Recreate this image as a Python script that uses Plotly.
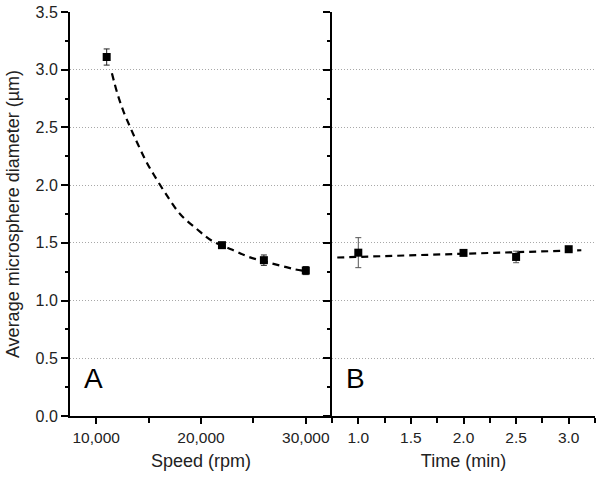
import plotly.graph_objects as go

# Panel A: speed series
speed_rpm = [11000, 22000, 26000, 30000]
speed_diam = [3.11, 1.48, 1.35, 1.26]
speed_err = [0.07, 0.02, 0.045, 0.035]

# Panel A: dashed fit curve
fitA_x = [11500, 12000, 12600, 13300, 14000, 14800, 15500, 16600, 18000,
          19600, 21000, 23000, 24500, 26000, 27700, 29000, 30000]
fitA_y = [2.97, 2.80, 2.64, 2.49, 2.35, 2.20, 2.09, 1.93, 1.75,
          1.62, 1.52, 1.44, 1.38, 1.34, 1.30, 1.27, 1.255]

# Panel B: time series
time_min = [1.0, 2.0, 2.5, 3.0]
time_diam = [1.415, 1.413, 1.378, 1.445]
time_err = [0.13, 0.02, 0.05, 0.02]

# Panel B: dashed fit line
fitB_x = [0.80, 3.12]
fitB_y = [1.373, 1.436]

grid_vals = [0.5, 1.0, 1.5, 2.0, 2.5, 3.0]

FONT = "Liberation Sans, Arial, sans-serif"
TXT = "#222222"

fig = go.Figure()

# hidden traces to activate grid axes
fig.add_trace(go.Scatter(x=[None], y=[None], xaxis="x", yaxis="y3", showlegend=False))
fig.add_trace(go.Scatter(x=[None], y=[None], xaxis="x2", yaxis="y4", showlegend=False))

fig.add_trace(go.Scatter(x=fitA_x, y=fitA_y, mode="lines",
                         line=dict(color="black", width=2.2, dash="7px,5px", shape="spline"),
                         xaxis="x", yaxis="y", showlegend=False, hoverinfo="skip"))
fig.add_trace(go.Scatter(x=speed_rpm, y=speed_diam, mode="markers",
                         marker=dict(symbol="square", size=8, color="black"),
                         error_y=dict(type="data", array=speed_err, color="#222", thickness=1, width=3),
                         xaxis="x", yaxis="y", showlegend=False))
fig.add_trace(go.Scatter(x=fitB_x, y=fitB_y, mode="lines",
                         line=dict(color="black", width=2.2, dash="7px,5px"),
                         xaxis="x2", yaxis="y2", showlegend=False, hoverinfo="skip"))
fig.add_trace(go.Scatter(x=time_min, y=time_diam, mode="markers",
                         marker=dict(symbol="square", size=8, color="black"),
                         error_y=dict(type="data", array=time_err, color="#555", thickness=1, width=3),
                         xaxis="x2", yaxis="y2", showlegend=False))

split = 262 / 525

common_y = dict(range=[0, 3.5], dtick=0.5, tick0=0, tickformat=".1f", showline=True, linecolor="black", linewidth=2,
                ticks="outside", ticklen=7, tickwidth=1.5, tickcolor="black",
                minor=dict(dtick=0.25, ticks="outside", ticklen=3.5, tickwidth=1.5, tickcolor="black", showgrid=False),
                showgrid=False, zeroline=False, fixedrange=True, tickfont=dict(size=16))

grid_y = dict(range=[0, 3.5], tickvals=grid_vals, showticklabels=False, ticks="", showgrid=True,
              gridcolor="#a8a8a8", gridwidth=1, griddash="1px,2px", showline=False, zeroline=False)

xcommon = dict(showline=True, linecolor="black", linewidth=2, ticks="outside", ticklen=6, tickwidth=1.5,
               tickcolor="black", showgrid=False, zeroline=False, tickfont=dict(size=15.5))

fig.update_layout(
    width=600, height=477,
    margin=dict(l=70, r=5, t=12, b=61),
    paper_bgcolor="white", plot_bgcolor="white",
    font=dict(family=FONT, color=TXT, size=16),
    xaxis=dict(**xcommon, domain=[0, split], range=[7500, 32500], tick0=10000, dtick=10000, tickformat=",",
               minor=dict(dtick=5000, ticks="outside", ticklen=5, tickwidth=1.5, tickcolor="black"),
               anchor="y", title=dict(text="Speed (rpm)", font=dict(size=18), standoff=10)),
    xaxis2=dict(**xcommon, domain=[split, 1], range=[0.75, 3.25], tick0=1.0, dtick=0.5, tickformat=".1f",
                minor=dict(dtick=0.25, ticks="outside", ticklen=5, tickwidth=1.5, tickcolor="black"),
                anchor="y2", title=dict(text="Time (min)", font=dict(size=18), standoff=10)),
    yaxis=dict(**common_y, anchor="x",
               title=dict(text="Average microsphere diameter (µm)", font=dict(size=18), standoff=11)),
    yaxis2=dict(**common_y, anchor="x2", showticklabels=False),
    yaxis3=dict(**grid_y, overlaying="y", anchor="x"),
    yaxis4=dict(**grid_y, overlaying="y2", anchor="x2"),
)

fig.add_annotation(text="A", xref="x domain", yref="y domain", x=0.045, y=0.05, xanchor="left", yanchor="bottom",
                   showarrow=False, font=dict(size=28, family=FONT, color="black"))
fig.add_annotation(text="B", xref="x2 domain", yref="y2 domain", x=0.045, y=0.05, xanchor="left", yanchor="bottom",
                   showarrow=False, font=dict(size=28, family=FONT, color="black"))

fig.write_html("out.html", config={"displayModeBar": False},
               post_script="document.body.style.margin='0';document.body.style.overflow='hidden';")
